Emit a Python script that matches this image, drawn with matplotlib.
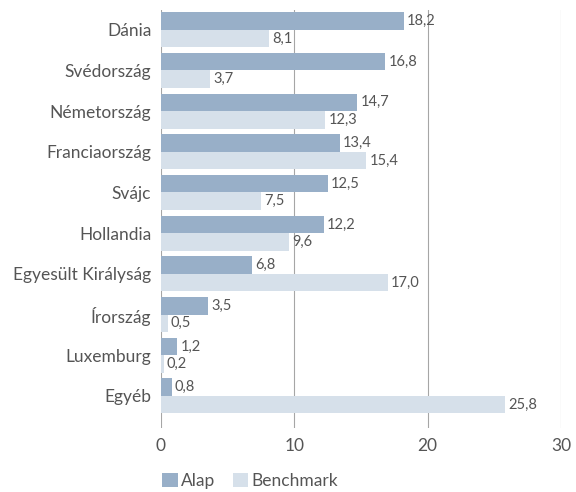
import matplotlib.pyplot as plt
import numpy as np

# Data
countries = ["Dánia", "Svédország", "Németország", "Franciaország", "Svájc",
             "Hollandia", "Egyesült Királyság", "Írország", "Luxemburg", "Egyéb"]
alap = [18.2, 16.8, 14.7, 13.4, 12.5, 12.2, 6.8, 3.5, 1.2, 0.8]
benchmark = [8.1, 3.7, 12.3, 15.4, 7.5, 9.6, 17.0, 0.5, 0.2, 25.8]

c_alap = "#98afc8"
c_bench = "#d6e0ea"
txt = "#555555"

plt.rcParams['font.family'] = ['Lato', 'DejaVu Sans']

fig = plt.figure(figsize=(5.76, 4.92), dpi=100)
ax = fig.add_axes([0.2795, 0.13, 0.6945, 0.85])

y = np.arange(len(countries))
h = 0.43
ax.barh(y - h / 2, alap, height=h, color=c_alap, label="Alap", zorder=2)
ax.barh(y + h / 2, benchmark, height=h, color=c_bench, label="Benchmark", zorder=2)

for i, (a, b) in enumerate(zip(alap, benchmark)):
    ax.text(a + 0.25, i - h / 2, f"{a:.1f}".replace(".", ","), va="center",
            ha="left", fontsize=10.5, color=txt)
    ax.text(b + 0.25, i + h / 2, f"{b:.1f}".replace(".", ","), va="center",
            ha="left", fontsize=10.5, color=txt)

ax.set_xlim(0, 30)
ax.set_ylim(9.79, -0.49)
ax.set_xticks([0, 10, 20, 30])
ax.set_yticks(y)
ax.set_yticklabels(countries)
ax.tick_params(axis="both", length=0, labelsize=12.5, colors=txt)
ax.tick_params(axis="y", pad=7)
ax.tick_params(axis="x", pad=7)
ax.xaxis.grid(True, color="#a6a6a6", linewidth=0.8, zorder=0)
for s in ["top", "right", "bottom", "left"]:
    ax.spines[s].set_visible(False)

ax.legend(loc="upper left", bbox_to_anchor=(-0.015, -0.09), ncol=2, frameon=False,
          fontsize=12.5, handlelength=0.9, handleheight=0.9, handletextpad=0.2,
          columnspacing=1.0, labelcolor=txt, borderaxespad=0)

fig.savefig("out.png", dpi=100)
